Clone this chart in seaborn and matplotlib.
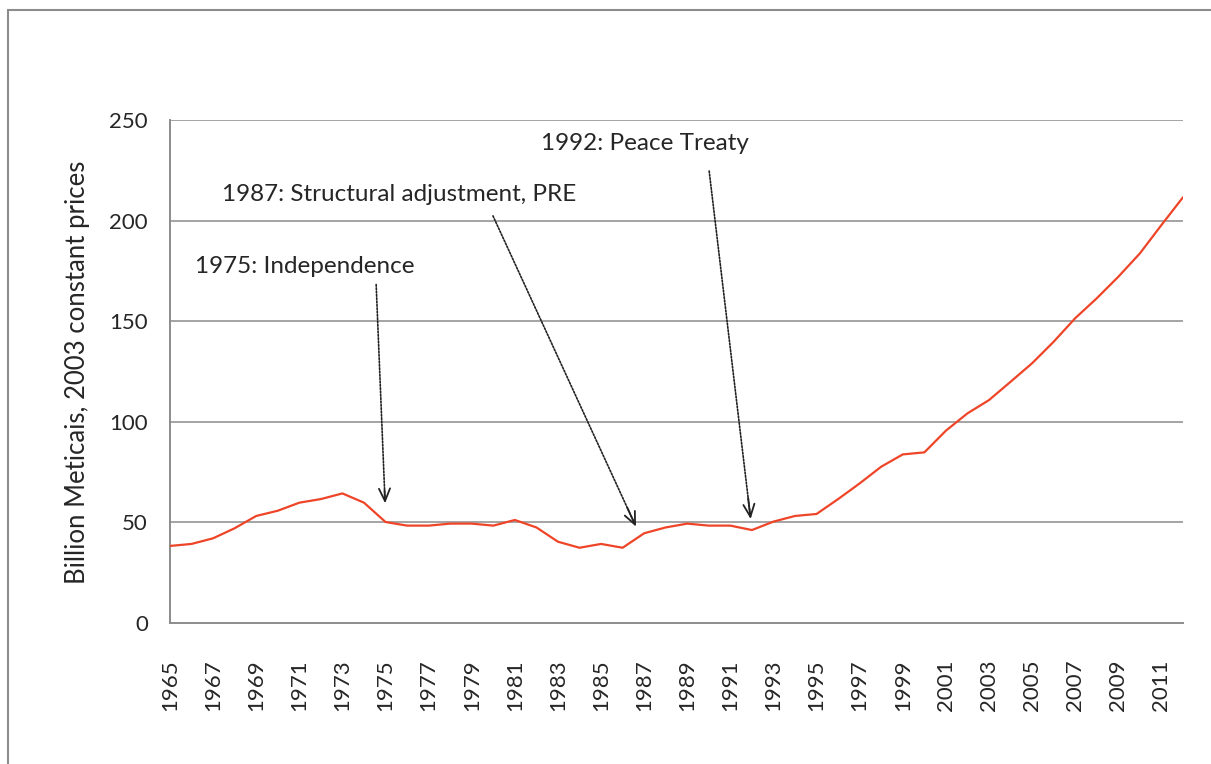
import numpy as np
import pandas as pd
import matplotlib
matplotlib.use("Agg")
import matplotlib.pyplot as plt
from matplotlib.patches import Rectangle
import seaborn as sns

# GDP series
years = list(range(1965, 2013))
gdp = [38.3, 39.3, 42.1, 47.1, 53.2, 55.8, 59.8, 61.6, 64.4, 59.8,
       50.2, 48.4, 48.4, 49.4, 49.4, 48.4, 51.2, 47.5, 40.4, 37.4,
       39.3, 37.4, 44.6, 47.5, 49.4, 48.4, 48.4, 46.2, 50.4, 53.2,
       54.2, 61.6, 69.4, 77.7, 83.8, 84.8, 95.6, 104.2, 110.8, 119.9,
       129.1, 139.8, 151.5, 161.4, 172.1, 183.7, 197.8, 211.6]

y_ticks = [0, 50, 100, 150, 200, 250]

# annotations: text, text anchor (x, y), arrow tail, arrow tip
events = ["1975: Independence", "1987: Structural adjustment, PRE", "1992: Peace Treaty"]
text_xy = [(1966.15, 177.1), (1967.4, 213.2), (1982.2, 238.4)]
tail_xy = [(1974.56, 169.6), (1979.93, 203.6), (1990.0, 226.0)]
tip_xy = [(1974.98, 59.5), (1986.62, 47.9), (1991.94, 51.7)]

df = pd.DataFrame({"year": years, "gdp": gdp})

sns.set_style("white")
plt.rcParams["font.family"] = ["Lato", "DejaVu Sans"]

fig = plt.figure(figsize=(12.11, 7.64), dpi=100)
ax = fig.add_axes([170 / 1211, 1 - 623 / 764, (1183 - 170) / 1211, (623 - 120) / 764])

grid_col = "#8c8c8c"
for v in y_ticks[1:]:
    ax.axhline(v, color=grid_col, lw=1.1, zorder=1)

sns.lineplot(data=df, x="year", y="gdp", color="#ee4528", lw=1.6, ax=ax, zorder=3)

ax.set_xlim(1965, 2012)
ax.set_ylim(0, 250)
ax.set_yticks(y_ticks)
ax.set_yticklabels([str(v) for v in y_ticks], fontsize=16)
ax.set_xticks(years)
ax.set_xticklabels([str(y) if y % 2 == 1 else "" for y in years], rotation=90, fontsize=16)
ax.tick_params(axis="x", length=7, width=1.1, color=grid_col, pad=19)
ax.tick_params(axis="y", length=9, width=1.1, color=grid_col, pad=7)
ax.set_xlabel("")
ax.set_ylabel("")
fig.text(78 / 1211, 1 - 372 / 764, "Billion Meticais, 2003 constant prices",
         rotation=90, ha="center", va="center", fontsize=18.5)

for side in ["top", "right"]:
    ax.spines[side].set_visible(False)
for side in ["left", "bottom"]:
    ax.spines[side].set_color(grid_col)
    ax.spines[side].set_linewidth(1.4)

for label, txy, a, b in zip(events, text_xy, tail_xy, tip_xy):
    ax.text(txy[0], txy[1], label, fontsize=17.5, ha="left", va="center", zorder=5)
    ax.annotate("", xy=b, xytext=a,
                arrowprops=dict(arrowstyle="-", ls=(0, (1, 1)), lw=1.2, color="#222222"))
    # solid open head on the last stretch of the arrow
    dx, dy = b[0] - a[0], b[1] - a[1]
    ax.annotate("", xy=b, xytext=(b[0] - dx * 0.06, b[1] - dy * 0.06),
                arrowprops=dict(arrowstyle="->,head_length=0.9,head_width=0.4",
                                lw=1.3, color="#222222", shrinkA=0, shrinkB=0))

# chart-area frame like the spreadsheet original
fig.patches.append(Rectangle((8 / 1211, -0.1), 1.2, 0.1 + 1 - 10 / 764,
                             transform=fig.transFigure, fill=False,
                             edgecolor="#8c8c8c", lw=1.5))

fig.savefig("out.png", dpi=100)
